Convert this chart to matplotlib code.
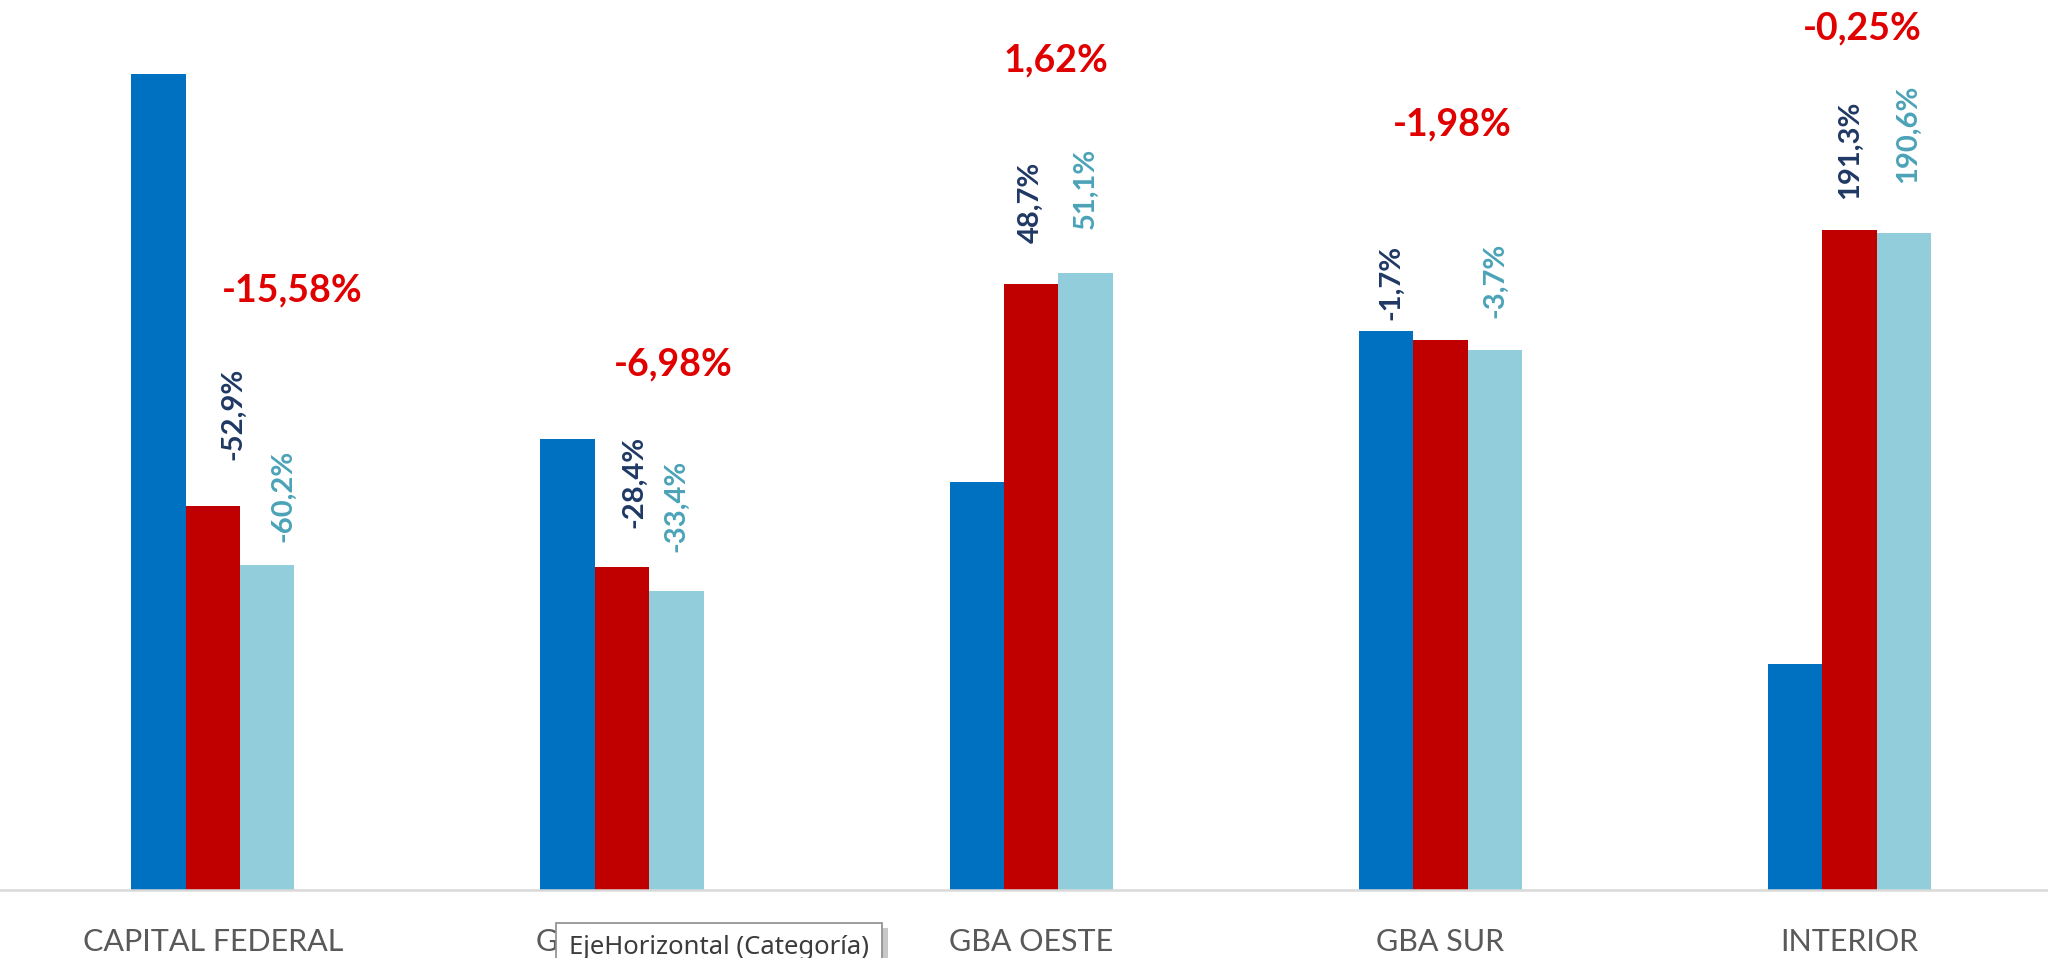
import matplotlib
matplotlib.use("Agg")
from matplotlib import pyplot as plt
import numpy as np

categories = ["CAPITAL FEDERAL", "GBA NORTE", "GBA OESTE", "GBA SUR", "INTERIOR"]
serie_1 = [624, 345, 312, 428, 173]
serie_2 = [294, 247, 464, 421, 505]
serie_3 = [249, 229, 472, 413, 503]
var_2 = ["-52,9%", "-28,4%", "48,7%", "-1,7%", "191,3%"]
var_3 = ["-60,2%", "-33,4%", "51,1%", "-3,7%", "190,6%"]
var_total = ["-15,58%", "-6,98%", "1,62%", "-1,98%", "-0,25%"]

# label placement (offsets from bars, in data units)
dx_2 = [0.05, 0.03, 0.0, -0.12, 0.0]
dx_3 = [0.04, 0.0, 0.0, 0.0, 0.01]
gap_2 = [35, 30, 31, 15, 24]
gap_3 = [17, 30, 34, 25, 38]
total_dx = [0.195, 0.125, 0.06, 0.03, 0.03]
total_y = [459, 402, 635, 586, 659]

c_blue = "#0070C0"
c_red = "#C00000"
c_light = "#92CDDC"
c_navy = "#1F3864"
c_teal = "#4BA3B8"

plt.rcParams['font.family'] = ['Lato', 'DejaVu Sans']

fig = plt.figure(figsize=(20.48, 9.58), dpi=100)
ax = fig.add_axes([0, 0.0709, 1, 0.9291])

x = np.arange(len(categories))
w = 0.133
ax.bar(x - w, serie_1, w, color=c_blue)
ax.bar(x, serie_2, w, color=c_red)
ax.bar(x + w, serie_3, w, color=c_light)

for i in range(len(categories)):
    ax.text(x[i] + dx_2[i], serie_2[i] + gap_2[i], var_2[i], rotation=90,
            ha='center', va='bottom', color=c_navy, fontsize=21, fontweight='bold')
    ax.text(x[i] + w + dx_3[i], serie_3[i] + gap_3[i], var_3[i], rotation=90,
            ha='center', va='bottom', color=c_teal, fontsize=21, fontweight='bold')
    ax.text(x[i] + total_dx[i], total_y[i], var_total[i], ha='center', va='center',
            color='#E00000', fontsize=27, fontweight='bold')
    ax.text(x[i], -0.058, categories[i], transform=ax.get_xaxis_transform(),
            ha='center', va='center', color='#595959', fontsize=22)

ax.set_xlim(-0.52, 4.485)
ax.set_ylim(0, 681)
ax.set_xticks([])
ax.set_yticks([])
for s in ['top', 'left', 'right']:
    ax.spines[s].set_visible(False)
ax.spines['bottom'].set_color('#D9D9D9')
ax.spines['bottom'].set_linewidth(1.8)

# tooltip left over from the spreadsheet screenshot (with a soft shadow)
tip = "EjeHorizontal (Categoría)"
fig.text(575 / 2048, 1 - 953 / 958, tip, ha='left', va='center',
         fontsize=18.5, color='none', family=['Noto Sans', 'DejaVu Sans'],
         bbox=dict(boxstyle='square,pad=0.5', fc='#C8C8C8', ec='none'))
fig.text(569 / 2048, 1 - 948 / 958, tip, ha='left', va='center',
         fontsize=18.5, color='#3C3C3C', family=['Noto Sans', 'DejaVu Sans'],
         bbox=dict(boxstyle='square,pad=0.5', fc='white', ec='#8C8C8C', lw=1.2))

fig.savefig("out.png", dpi=100)
